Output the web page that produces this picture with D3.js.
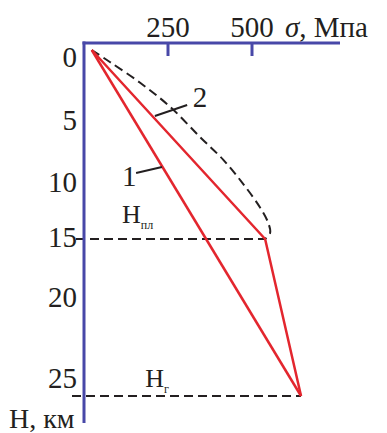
<!DOCTYPE html>
<html>
<head>
<meta charset="utf-8">
<script src="https://cdn.jsdelivr.net/npm/d3@7/dist/d3.min.js"></script>
<style>
  svg text, svg tspan { font-family: "Liberation Serif", "Times New Roman", Tinos, serif !important; }
</style>
</head>
<body style="margin:0; background:#fff">
<svg id="chart" width="387" height="433" style="display:block"></svg>
<script>
// Stress σ (MPa) versus depth H (km)
const sigmaTicks = [250, 500];
const depthTicks = [0, 5, 10, 15, 20, 25];

// Line 1: straight profile down to the base H_г
const line1Sigma = [23, 646];
const line1Depth = [0, 25];

// Line 2: broken profile with a knee at H_пл
const line2Sigma = [23, 539, 646];
const line2Depth = [0, 15, 25];

// Dashed curve above line 2, closing at H_пл
const curveSigma = [23, 77, 167, 256, 345, 414, 473, 524, 548, 554, 539];
const curveDepth = [0, 0.95, 2.6, 4.5, 6.9, 8.7, 10.6, 12.5, 13.7, 14.5, 15];

// Reference levels
const levelNames = ["пл", "г"];
const levelDepth = [15, 25];
const levelSigma = [539, 646];

const svg = d3.select("#chart");
const blue = "#4848a8", red = "#e3262e", dark = "#231f20";

const x = d3.scaleLinear().domain([0, 500]).range([84, 252]);
// depth axis is drawn schematically: piecewise between the marked levels
const y = d3.scaleLinear().domain([0, 15, 25]).range([50, 239, 396]);
// positions of the depth numbers along the ruler
const yLabel = d3.scaleLinear().domain(depthTicks).range([57, 120, 182, 237, 297, 378]);

const toPts = (s, d) => s.map((v, i) => [x(v), y(d[i])]);
const line = d3.line();

// horizontal level lines
svg.append("g").selectAll("line").data(levelDepth).join("line")
  .attr("x1", (d, i) => i === 0 ? 76 : 72)
  .attr("x2", (d, i) => x(levelSigma[i]))
  .attr("y1", d => y(d)).attr("y2", d => y(d))
  .attr("stroke", dark).attr("stroke-width", 2).attr("stroke-dasharray", "9,5");

// dashed curve
svg.append("path")
  .attr("d", d3.line().curve(d3.curveCatmullRom.alpha(0.5))(toPts(curveSigma, curveDepth)))
  .attr("fill", "none").attr("stroke", dark).attr("stroke-width", 2).attr("stroke-dasharray", "9,5");

// red profiles
svg.append("path").attr("d", line(toPts(line1Sigma, line1Depth)))
  .attr("fill", "none").attr("stroke", red).attr("stroke-width", 2.5);
svg.append("path").attr("d", line(toPts(line2Sigma, line2Depth)))
  .attr("fill", "none").attr("stroke", red).attr("stroke-width", 2.5).attr("stroke-linejoin", "round");

// axes
svg.append("line").attr("x1", 82.5).attr("x2", 340).attr("y1", 43).attr("y2", 43)
  .attr("stroke", blue).attr("stroke-width", 3);
svg.append("line").attr("x1", 84).attr("x2", 84).attr("y1", 41.5).attr("y2", 423)
  .attr("stroke", blue).attr("stroke-width", 3);
svg.append("g").selectAll("line").data(sigmaTicks).join("line")
  .attr("x1", d => x(d)).attr("x2", d => x(d)).attr("y1", 43).attr("y2", 56)
  .attr("stroke", blue).attr("stroke-width", 3);

const txt = (sel, size) => sel
  .attr("font-family", "Liberation Serif")
  .attr("font-size", size)
  .attr("fill", dark);

// tick labels
svg.append("g").selectAll("text").data(sigmaTicks).join("text")
  .call(txt, 29)
  .attr("x", d => x(d)).attr("y", 37).attr("text-anchor", "middle")
  .text(d => d);
svg.append("g").selectAll("text").data(depthTicks).join("text")
  .call(txt, 29)
  .attr("x", 77).attr("y", d => yLabel(d) + 10).attr("text-anchor", "end")
  .text(d => d);

// axis titles
const sx = svg.append("text").call(txt, 29).attr("x", 285).attr("y", 37);
sx.append("tspan").attr("font-style", "italic").text("σ");
sx.append("tspan").text(", Мпа");
svg.append("text").call(txt, 28).attr("x", 9).attr("y", 428).text("Н, км");

// level labels
levelNames.forEach((nm, i) => {
  const t = svg.append("text").call(txt, 26)
    .attr("x", x(i === 0 ? 113 : 182))
    .attr("y", y(i === 0 ? 13.7 : 24.43));
  t.append("tspan").text("Н");
  t.append("tspan").attr("font-size", 12).attr("dy", 6).text(nm);
});

// curve numbers with leader lines
const callouts = [
  { label: "1", tx: 113, td: 10.8, l: [[155, 9.76], [232, 9.29]] },
  { label: "2", tx: 324, td: 4.5, l: [[211, 5.24], [307, 4.37]] }
];
callouts.forEach(c => {
  svg.append("line")
    .attr("x1", x(c.l[0][0])).attr("y1", y(c.l[0][1]))
    .attr("x2", x(c.l[1][0])).attr("y2", y(c.l[1][1]))
    .attr("stroke", dark).attr("stroke-width", 2);
  svg.append("text").call(txt, 29).attr("x", x(c.tx)).attr("y", y(c.td)).text(c.label);
});
</script>
</body>
</html>
